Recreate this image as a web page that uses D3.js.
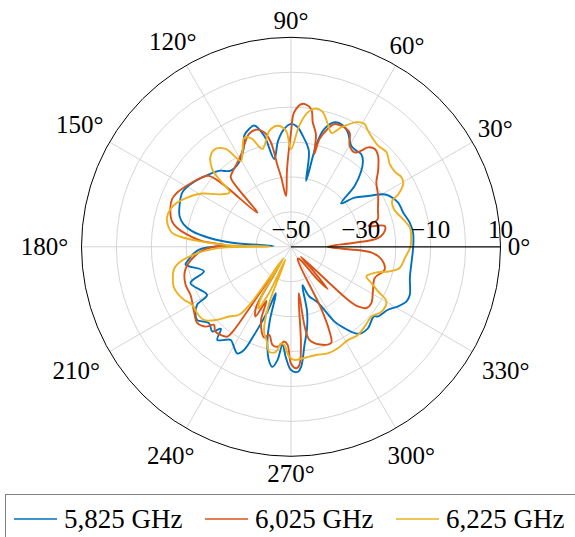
<!DOCTYPE html>
<html><head><meta charset="utf-8">
<script src="https://cdn.jsdelivr.net/npm/d3@7"></script>
<style>body{margin:0;background:#fff} svg{display:block}</style>
</head><body>
<svg id="c" width="575" height="537"></svg>
<script>
// ---- data ----
const seriesNames = ["5,825 GHz", "6,025 GHz", "6,225 GHz"];
const angleTicks = [0, 30, 60, 90, 120, 150, 180, 210, 240, 270, 300, 330];
const radialTickLabels = [-50, -30, -10, 10];
const radialGrid = [-40, -30, -20, -10, 0];

const blueAngles = [0,6.6,11.5,16.9,22.4,27.2,29.7,33.4,37.7,40.9,43.7,47.2,50.1,52.8,55.8,59.2,63.6,66.8,70.7,74.2,76,77.1,79.5,84,86.8,90,93.3,97,100.8,103.6,106.9,109.6,112.9,114.9,121.6,128.4,133.5,142,148.1,153.5,159.9,164.6,168.2,171,173.7,176,177.5,179.5,181.5,184,187.1,189.6,195.7,199.8,209.8,211.7,214.8,217.9,222.9,227.1,229.5,231.6,235,237.1,243.3,245.5,247.3,250,252,254,256,259.3,261.2,263.2,265,267.5,270,273,274.8,277.8,281,284,286.6,290,295.7,300.2,303.3,306.4,309.1,313.4,320,321.3,327,330.9,334.7,338,345.3,353.2];
const blueDb = [-15,-14.8,-15.3,-16.4,-16.8,-18.2,-19.6,-23.6,-27,-31,-24.8,-20.4,-17.9,-16.7,-16.7,-16.3,-13.4,-12.2,-12.2,-14.9,-19.5,-30.6,-22,-18,-15.7,-14.8,-16.2,-19.5,-24.4,-17.3,-13.7,-14.2,-15.5,-18.1,-21.6,-22.2,-20,-17.7,-16.1,-15.2,-16,-16.9,-18.6,-21.3,-26.3,-33.2,-45,-30,-24,-22,-20.5,-19.4,-24.1,-19.4,-22.3,-18.4,-16.7,-15.9,-17.9,-16.9,-19.1,-16,-17.5,-18.2,-15.8,-17.5,-22.6,-30,-36,-28,-22,-16.5,-15.2,-17.3,-21.8,-18,-14.7,-14.1,-15.5,-21.6,-26,-31,-38.5,-35,-32.3,-25.2,-22.1,-19.3,-18.1,-17.9,-19,-18.1,-16.9,-14.9,-13.4,-13.3,-14.8,-15.2];

const orangeAngles = [0,3.6,5.7,9.5,12.5,15,17.5,23.3,30.3,37,41.1,46.3,49.4,52.3,53.8,56,59.9,62.9,66.5,70.5,73.2,75.2,75.9,77.5,80.1,81.7,85.3,88.6,90,93,95.6,98,99.4,100.9,103.2,106.7,110.4,114.5,118.9,124.3,128,131,134.5,137.5,139.2,142,147,154.5,158.2,162.7,167.8,170.5,173.2,176.4,178.6,180.5,183,186,188.9,193,199.7,205.5,213.7,219.1,223,225.4,228,231.4,234.7,235.6,237.5,240,243,245.5,248,253.5,256.1,259.3,262.3,265.9,268,270,272.4,274,275.8,279.5,281,286.5,292.7,294.5,296,298.5,303,309,311,312.5,315,317,318.3,320.9,325,331.5,339.6,346.3,352,356];
const orangeDb = [-39.5,-31.8,-25,-22.8,-22.5,-27,-24,-22.9,-21.1,-19.4,-16.9,-13.9,-13.1,-14,-15.9,-17.4,-16.5,-13.2,-12.5,-12.7,-15.2,-18.1,-22.6,-17,-13.8,-10.1,-8.9,-11.4,-17.2,-28,-35.4,-30,-26.5,-19.5,-16.3,-15,-15.5,-17.8,-20.2,-21.9,-22.8,-23.7,-36.3,-23,-18.9,-17.7,-16.2,-13.9,-13.3,-13.8,-15.1,-16.9,-20,-24.5,-31.3,-27,-24,-22,-20.4,-18.8,-17.9,-18.1,-16.6,-15.4,-16.5,-18.6,-17.5,-17.7,-18.5,-21.1,-44,-30,-27.6,-33,-27,-22.9,-24,-21.4,-21.1,-22.8,-21.9,-16.6,-15.2,-16,-21.7,-36.5,-23,-20.8,-20.2,-23.5,-30,-46,-46,-38,-34,-40,-46,-28,-24.3,-22.2,-21.9,-23.3,-24.4,-22.4,-23.8,-27];

const yellowAngles = [0,4,9.1,13.7,20,24.4,26.1,29.2,32.1,35.8,40,44.7,49.3,52.7,56.5,59.1,61.8,67.2,70.3,73.3,76.7,79.7,82.9,86.1,90,92.5,96.3,100.6,106.3,110,113.2,117.2,120.3,123.7,127.6,131.4,135.4,136.9,138.5,143.9,149.1,154.6,158.8,162.7,166.8,170.4,173.3,174.8,176.5,178.3,179.6,181,184.6,188.2,191,194.8,198.6,202.1,206.3,210.4,215.2,220,224.7,228.4,232.6,234.5,236.5,239,242,244.5,246.5,249,252.4,255.7,258.3,261.8,264.1,266.1,269.1,271.7,276,283.1,289,294.8,301.4,307.2,312.7,319.1,324.4,330.2,332.9,335.8,338.6,342.7,346.1,349,354.5];
const yellowDb = [-15.8,-15.5,-15.5,-16.9,-18.6,-18.2,-15.8,-13.2,-12.6,-13.3,-13.1,-11.5,-11.8,-11.2,-10.1,-9,-9.5,-12.9,-15.4,-13.3,-10.4,-9.7,-11.2,-15.2,-22,-16.7,-15.1,-16.2,-20.8,-17,-16,-19.6,-21.5,-16.3,-14.6,-15.2,-18.3,-22.4,-26.5,-24.5,-20.3,-17.1,-15,-13.8,-13.5,-14.3,-15.7,-18.2,-23.6,-31,-44,-29,-22.1,-17.5,-15.8,-15,-14.5,-14.8,-15.8,-17.2,-17.1,-17.4,-20.3,-23.3,-25.5,-30,-46,-34,-30,-35,-46,-32,-24.5,-22,-19.3,-19.6,-22.2,-21.8,-18.5,-17.6,-17.9,-18.2,-17.7,-18,-18.7,-18.3,-18.9,-19.5,-18.1,-18.5,-22,-24.8,-26.8,-24.9,-20.8,-18.3,-17.2];

const seriesColors = ["#0072bd", "#d95319", "#edb120"];

// ---- layout ----
const FONT = "'Liberation Serif', 'Times New Roman', 'DejaVu Serif', serif";
const fs = 25, legFs = 27;
const cx = 291, cy = 246.8, R = 209.5;
const svg = d3.select("#c");
const g = svg.append("g").attr("transform", `translate(${cx},${cy})`);
const r = d3.scaleLinear().domain([-50, 10]).range([0, R]).clamp(true);
const toRad = a => a * Math.PI / 180;

// grid circles
g.selectAll("circle.grid").data(radialGrid).join("circle")
  .attr("r", d => r(d)).attr("fill", "none").attr("stroke", "#d0d0d0").attr("stroke-width", 0.9);
// spokes
g.selectAll("line.spoke").data(angleTicks.filter(a => a !== 0)).join("line")
  .attr("x1", 0).attr("y1", 0)
  .attr("x2", a => R * Math.cos(toRad(a))).attr("y2", a => -R * Math.sin(toRad(a)))
  .attr("stroke", "#d0d0d0").attr("stroke-width", 0.9);

// series
const line = d3.lineRadial()
  .angle(d => toRad(90 - d.a))
  .radius(d => r(d.v))
  .curve(d3.curveCatmullRomClosed.alpha(0.5));
const series = [
  {name: seriesNames[0], color: seriesColors[0], a: blueAngles, v: blueDb},
  {name: seriesNames[1], color: seriesColors[1], a: orangeAngles, v: orangeDb},
  {name: seriesNames[2], color: seriesColors[2], a: yellowAngles, v: yellowDb}
];
series.forEach(s => {
  const pts = s.a.map((a, i) => ({a, v: s.v[i]}));
  g.append("path").attr("d", line(pts)).attr("fill", "none")
    .attr("stroke", s.color).attr("stroke-width", 1.9).attr("stroke-linejoin", "round");
});

// outer circle and radial axis
g.append("circle").attr("r", R).attr("fill", "none").attr("stroke", "#000").attr("stroke-width", 1);
g.append("line").attr("x1", 0).attr("y1", 0).attr("x2", R).attr("y2", 0)
  .attr("stroke", "#000").attr("stroke-width", 1.3);

// radial tick labels
g.selectAll("text.rt").data(radialTickLabels).join("text")
  .attr("x", d => r(d)).attr("y", -9)
  .attr("text-anchor", "middle").attr("font-size", fs).attr("font-family", FONT)
  .text(d => d < 0 ? "\u2212" + Math.abs(d) : String(d));

// angle labels
angleTicks.forEach(a => {
  const c = Math.cos(toRad(a)), s = Math.sin(toRad(a));
  const t = g.append("text").attr("font-size", fs).attr("font-family", FONT)
    .attr("text-anchor", "middle").text(a + "\u00b0");
  const w = t.node().getComputedTextLength();
  let D = R + 17 + Math.max(0, 0.745 * w - 15.3) * Math.abs(c);
  if (s < -0.1 && Math.abs(c) > 0.1) D += 4;
  const xc = D * c, yc = -D * s;
  t.attr("x", xc).attr("y", yc + fs * 0.34);
});

// legend
const lg = svg.append("g");
lg.append("rect").attr("x", 5.5).attr("y", 494.5).attr("width", 620).attr("height", 80)
  .attr("fill", "#fff").attr("stroke", "#7f7f7f").attr("stroke-width", 1);
const legX = [14, 205, 396];
series.forEach((s, i) => {
  lg.append("line").attr("x1", legX[i]).attr("x2", legX[i] + 43).attr("y1", 519).attr("y2", 519)
    .attr("stroke", s.color).attr("stroke-width", 1.5);
  lg.append("text").attr("x", legX[i] + 50).attr("y", 527.5).attr("font-size", legFs)
    .attr("font-family", FONT).text(s.name);
});
</script>
</body></html>
